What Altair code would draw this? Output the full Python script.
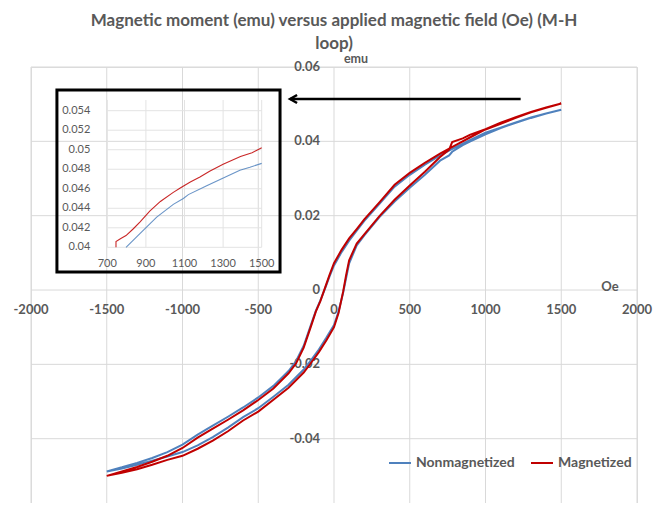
import altair as alt
import pandas as pd

# ---------------- data ----------------
SERIES = ["Nonmagnetized", "Magnetized"]
COLORS = ["#4F81BD", "#C00000"]

X_TICKS = [-2000, -1500, -1000, -500, 0, 500, 1000, 1500, 2000]
Y_TICKS = [-0.06, -0.04, -0.02, 0, 0.02, 0.04, 0.06]

# descending branch (field swept +1500 -> -1500)
DESC_H = [1500, 1400, 1300, 1200, 1100, 1000, 900, 800, 700, 600, 500, 400, 300, 200, 150, 100, 50, 0,
          -30, -60, -90, -120, -150, -200, -250, -300, -400, -500, -600, -700, -800, -900, -1000,
          -1100, -1200, -1300, -1400, -1500]
RED_DESC = [0.0502, 0.0490, 0.0478, 0.0463, 0.0447, 0.0432, 0.0411, 0.0389, 0.0367, 0.0342, 0.0315,
            0.0283, 0.0236, 0.0190, 0.0164, 0.0139, 0.0108, 0.0072, 0.0040, 0.0005, -0.0030, -0.0058,
            -0.0095, -0.0155, -0.0197, -0.0224, -0.0265, -0.0296, -0.0324, -0.0349, -0.0373, -0.0397,
            -0.0425, -0.0446, -0.0462, -0.0476, -0.0488, -0.0500]
BLUE_DESC = [0.0485, 0.0475, 0.0464, 0.0451, 0.0437, 0.0423, 0.0404, 0.0384, 0.0362, 0.0337, 0.0310,
             0.0278, 0.0232, 0.0186, 0.0160, 0.0133, 0.0102, 0.0066, 0.0036, 0.0003, -0.0028, -0.0056,
             -0.0091, -0.0150, -0.0191, -0.0218, -0.0258, -0.0289, -0.0316, -0.0341, -0.0365, -0.0389,
             -0.0416, -0.0436, -0.0452, -0.0465, -0.0477, -0.0488]

# ascending branch (field swept -1500 -> +1500)
ASC_H = [-1500, -1400, -1300, -1200, -1100, -1000, -900, -800, -700, -600, -500, -400, -300, -200,
         -150, -100, -50, 0, 30, 60, 80, 100, 150, 200, 300, 400, 500, 600, 700, 760, 780, 850, 900,
         1000, 1100, 1200, 1300, 1400, 1500]
RED_ASC = [-0.0500, -0.0492, -0.0482, -0.0470, -0.0457, -0.0446, -0.0427, -0.0405, -0.0380, -0.0351,
           -0.0327, -0.0295, -0.0263, -0.0222, -0.0195, -0.0167, -0.0135, -0.0100, -0.0062, -0.0005,
           0.0040, 0.0080, 0.0125, 0.0150, 0.0199, 0.0243, 0.0281, 0.0318, 0.0358, 0.0378, 0.0398,
           0.0408, 0.0418, 0.0433, 0.0450, 0.0465, 0.0479, 0.0491, 0.0502]
BLUE_ASC = [-0.0488, -0.0480, -0.0470, -0.0459, -0.0448, -0.0436, -0.0418, -0.0396, -0.0370, -0.0342,
            -0.0318, -0.0287, -0.0255, -0.0214, -0.0188, -0.0160, -0.0128, -0.0094, -0.0058, -0.0008,
            0.0032, 0.0072, 0.0120, 0.0147, 0.0196, 0.0238, 0.0275, 0.0310, 0.0348, 0.0362, 0.0372,
            0.0390, 0.0400, 0.0419, 0.0436, 0.0450, 0.0463, 0.0475, 0.0485]

# inset (zoom of 700..1500 Oe)
INSET_X_TICKS = [700, 900, 1100, 1300, 1500]
INSET_Y_TICKS = [0.04, 0.042, 0.044, 0.046, 0.048, 0.05, 0.052, 0.054]
INSET_GRID_TOP = 0.0551
INSET_RED_H = [745, 745, 770, 797, 835, 870, 920, 975, 1040, 1080, 1130, 1180, 1230, 1300, 1390, 1450, 1470, 1500]
INSET_RED_M = [0.0400, 0.0406, 0.0409, 0.0412, 0.0419, 0.0426, 0.0437, 0.0447, 0.0456, 0.0461, 0.0467,
               0.0472, 0.0478, 0.0485, 0.0493, 0.0497, 0.0499, 0.0502]
INSET_BLUE_H = [797, 869, 956, 1042, 1094, 1120, 1215, 1301, 1387, 1439, 1500]
INSET_BLUE_M = [0.0400, 0.0414, 0.0431, 0.0444, 0.0450, 0.0454, 0.0463, 0.0471, 0.0479, 0.0482, 0.0486]
INSET_FRAME_H = [439, 1595]
INSET_FRAME_M = [0.03747, 0.05612]

# arrow annotation (main chart units)
ARROW_H = [1232, -290]
ARROW_M = 0.0514

# ---------------- tables ----------------
rows = []
for name, desc, asc in [("Nonmagnetized", BLUE_DESC, BLUE_ASC), ("Magnetized", RED_DESC, RED_ASC)]:
    i = 0
    for h, m in zip(DESC_H, desc):
        rows.append({"series": name, "H": h, "M": m, "idx": i}); i += 1
    for h, m in zip(ASC_H, asc):
        rows.append({"series": name, "H": h, "M": m, "idx": i}); i += 1
loop_df = pd.DataFrame(rows)

irows = []
for name, hs, ms in [("Nonmagnetized", INSET_BLUE_H, INSET_BLUE_M), ("Magnetized", INSET_RED_H, INSET_RED_M)]:
    for i, (h, m) in enumerate(zip(hs, ms)):
        irows.append({"series": name, "H": h, "M": m, "idx": i})
inset_df = pd.DataFrame(irows)

xt_df = pd.DataFrame({"t": X_TICKS, "label": [str(v) for v in X_TICKS]})
yt_df = pd.DataFrame({"t": Y_TICKS, "label": [str(v) for v in Y_TICKS]})
ixt_df = pd.DataFrame({"t": INSET_X_TICKS, "label": [str(v) for v in INSET_X_TICKS],
                       "m1": [INSET_Y_TICKS[0]] * len(INSET_X_TICKS),
                       "m2": [INSET_GRID_TOP] * len(INSET_X_TICKS)})
iyt_df = pd.DataFrame({"t": INSET_Y_TICKS, "label": [str(v) for v in INSET_Y_TICKS],
                       "h1": [INSET_X_TICKS[0]] * len(INSET_Y_TICKS),
                       "h2": [INSET_X_TICKS[-1]] * len(INSET_Y_TICKS)})
arrow_df = pd.DataFrame({"h1": [ARROW_H[0]], "h2": [ARROW_H[1]], "m": [ARROW_M]})
frame_df = pd.DataFrame({"h1": [INSET_FRAME_H[0]], "h2": [INSET_FRAME_H[1]],
                         "m1": [INSET_FRAME_M[0]], "m2": [INSET_FRAME_M[1]]})

# ---------------- layout ----------------
W, H = 606, 436
GRAY = "#595959"
GRID = "#D9D9D9"
FONT = "Lato"

main_x = alt.Scale(domain=[-2000, 2000], nice=False, zero=False)
main_y = alt.Scale(domain=[-0.0573, 0.06], nice=False, zero=False)
inset_x = alt.Scale(domain=[700, 1500], range=[76.3, 230.7], nice=False, zero=False)
inset_y = alt.Scale(domain=[0.04, 0.054], range=[180.3, 43.7], nice=False, zero=False)


def MX(f):
    return alt.X(f, scale=main_x, axis=None)


def MY(f):
    return alt.Y(f, scale=main_y, axis=None)


def IX(f):
    return alt.X(f, scale=inset_x, axis=None)


def IY(f):
    return alt.Y(f, scale=inset_y, axis=None)


color = alt.Color("series:N", scale=alt.Scale(domain=SERIES, range=COLORS),
                  legend=alt.Legend(title=None, orient="none", legendX=357, legendY=384,
                                    direction="horizontal", symbolType="stroke", symbolSize=484,
                                    symbolStrokeWidth=2, labelFont=FONT, labelFontSize=14,
                                    labelFontWeight="bold", labelColor=GRAY, columnPadding=12,
                                    labelOffset=4, padding=0))

# main grid
vgrid = alt.Chart(xt_df).mark_rule(color=GRID, strokeWidth=1).encode(x=MX("t:Q"))
hgrid = alt.Chart(yt_df).mark_rule(color=GRID, strokeWidth=1).encode(y=MY("t:Q"))

# main tick labels (Excel style: crossing at zero)
txt = dict(font=FONT, fontSize=13, fontWeight="bold", color=GRAY)
xlabels = alt.Chart(xt_df).mark_text(align="center", baseline="middle", dy=20, **txt).encode(
    x=MX("t:Q"), y=alt.Y(datum=0, scale=main_y, axis=None), text="label:N")
ylabels = alt.Chart(yt_df).mark_text(align="right", baseline="middle", dx=-14, **txt).encode(
    x=alt.X(datum=0, scale=main_x, axis=None), y=MY("t:Q"), text="label:N")
emu_title = alt.Chart(yt_df.tail(1)).mark_text(align="center", baseline="middle", dx=22, dy=-8.5,
                                                font=FONT, fontSize=12.5, fontWeight="bold",
                                                color=GRAY, text="emu").encode(
    x=alt.X(datum=0, scale=main_x, axis=None), y=MY("t:Q"))
oe_title = alt.Chart(xt_df.tail(1)).mark_text(align="center", baseline="middle", dx=-27, dy=-3,
                                               font=FONT, fontSize=13, fontWeight="bold",
                                               color=GRAY, text="Oe").encode(
    x=MX("t:Q"), y=alt.Y(datum=0, scale=main_y, axis=None))

lines = alt.Chart(loop_df).mark_line(strokeWidth=2).encode(
    x=MX("H:Q"), y=MY("M:Q"), color=color, order="idx:Q")
arrow_line = alt.Chart(arrow_df).mark_rule(color="black", strokeWidth=2.5).encode(
    x=MX("h1:Q"), x2="h2:Q", y=MY("m:Q"))
arrow_head = alt.Chart(arrow_df).mark_point(
    shape="M1.75,-1L0,0L1.75,1", size=64, filled=False, stroke="black", strokeWidth=2.5, opacity=1
).encode(x=MX("h2:Q"), y=MY("m:Q"))

main = alt.layer(vgrid, hgrid, xlabels, ylabels, emu_title, oe_title, lines, arrow_line, arrow_head)

# inset
itxt = dict(font=FONT, fontSize=11, color=GRAY)
inset_vgrid = alt.Chart(ixt_df).mark_rule(color="#E3E3E3", strokeWidth=1).encode(
    x=IX("t:Q"), y=IY("m1:Q"), y2="m2:Q")
inset_hgrid = alt.Chart(iyt_df).mark_rule(color="#E3E3E3", strokeWidth=1).encode(
    y=IY("t:Q"), x=IX("h1:Q"), x2="h2:Q")
inset_xlabels = alt.Chart(ixt_df).mark_text(align="center", baseline="middle", dy=17, **itxt).encode(
    x=IX("t:Q"), y=IY("m1:Q"), text="label:N")
inset_ylabels = alt.Chart(iyt_df).mark_text(align="right", baseline="middle", dx=-17, **itxt).encode(
    x=IX("h1:Q"), y=IY("t:Q"), text="label:N")
inset_lines = alt.Chart(inset_df).mark_line(strokeWidth=1.1, opacity=0.85).encode(
    x=IX("H:Q"), y=IY("M:Q"),
    color=alt.Color("series:N", scale=alt.Scale(domain=SERIES, range=COLORS), legend=None),
    order="idx:Q")
inset_frame = alt.Chart(frame_df).mark_rect(fillOpacity=0, stroke="black", strokeWidth=3).encode(
    x=IX("h1:Q"), x2="h2:Q", y=IY("m1:Q"), y2="m2:Q")
inset = alt.layer(inset_vgrid, inset_hgrid, inset_xlabels, inset_ylabels, inset_lines, inset_frame)

chart = alt.layer(main, inset).resolve_scale(x="independent", y="independent").properties(
    width=W, height=H,
    autosize=alt.AutoSizeParams(type="none"),
    padding={"left": 23, "top": 59, "right": 20, "bottom": 0},
    title=alt.TitleParams(
        text=["Magnetic moment (emu) versus applied magnetic field (Oe) (M-H", "loop)"],
        font=FONT, fontSize=17, fontWeight="bold", color=GRAY, anchor="middle",
        frame="group", offset=0, lineHeight=23),
).configure_view(stroke=None).configure(background="white")

chart.save("out.html", embed_options={"renderer": "svg", "actions": False})
